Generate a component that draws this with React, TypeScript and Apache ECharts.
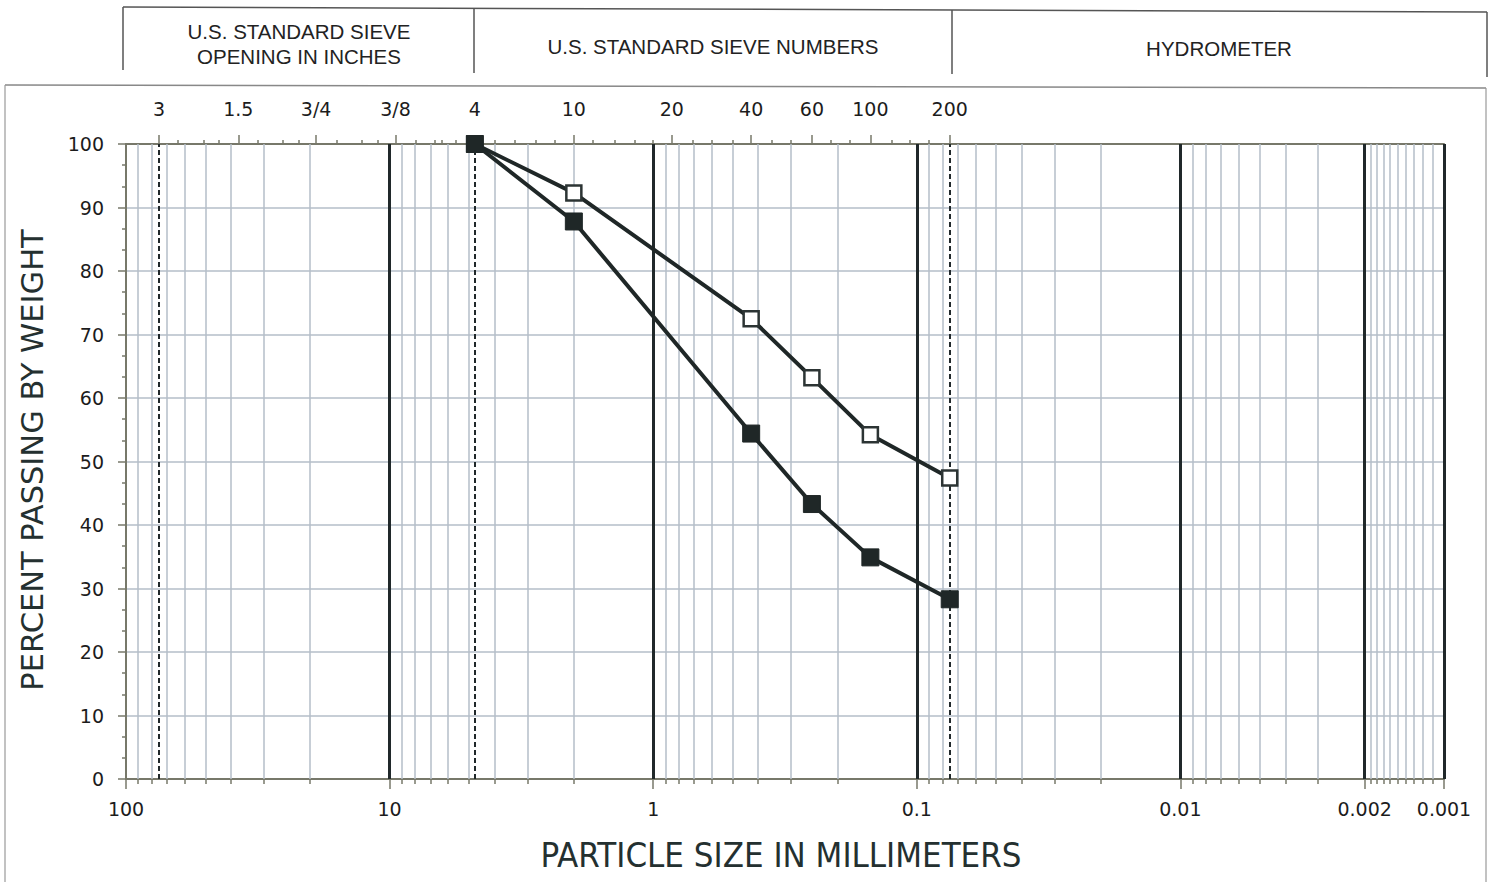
import React, { useEffect, useRef } from "react";
import * as echarts from "echarts";

// ---- data ----
const sampleSizes = [4.75, 2.0, 0.425, 0.25, 0.15, 0.075];
const sampleOpen = [100, 92.3, 72.5, 63.2, 54.2, 47.4];
const sampleFilled = [100, 87.8, 54.4, 43.3, 34.9, 28.3];

// ---- axes ----
const sieveSizes = [75, 37.5, 19, 9.5, 4.75, 2.0, 0.85, 0.425, 0.25, 0.15, 0.075];
const sieveLabels = ["3", "1.5", "3/4", "3/8", "4", "10", "20", "40", "60", "100", "200"];
const minorSieveSizes = [
  63.5, 50.8, 44.5, 31.75, 25.4, 22.2, 15.9, 12.7, 11.1, 7.94, 6.73, 6.35, 5.6,
  4.0, 3.35, 2.8, 2.36, 1.7, 1.4, 1.18, 1.0, 0.71, 0.6, 0.5, 0.355, 0.3, 0.212,
  0.18, 0.125, 0.106, 0.09,
];
const sizeTicks = [100, 10, 1, 0.1, 0.01, 0.002, 0.001];
const sizeTickLabels = ["100", "10", "1", "0.1", "0.01", "0.002", "0.001"];
const decades = [10, 1, 0.1, 0.01, 0.001];
const multiples = [2, 3, 4, 5, 6, 7, 8, 9];
const boldLines = [10, 1, 0.1, 0.01, 0.002, 0.001];
const dashedLines = [75, 4.75, 0.075];
const fineLines = [0.0011, 0.0012, 0.0013, 0.0014, 0.0015, 0.0016, 0.0017, 0.0018, 0.0019];

const nearest = (v: number, vals: number[], labels: string[]) => {
  let best = 0;
  let bd = Infinity;
  vals.forEach((x, i) => {
    const d = Math.abs(Math.log10(v) - Math.log10(x));
    if (d < bd) {
      bd = d;
      best = i;
    }
  });
  return labels[best];
};

const minorGrid: number[] = [];
decades.forEach((d) => multiples.forEach((m) => {
  const v = +(d * m).toPrecision(3);
  if (!boldLines.some((b) => Math.abs(b - v) / b < 1e-6)) minorGrid.push(v);
}));
const minorTickVals = minorGrid.concat(fineLines);

const INK = "#1f2727";
const GRID = "#b4bec8";
const AXIS = "#77786a";
const TICKFONT = "DejaVu Sans";

export default function App() {
  const ref = useRef<HTMLDivElement>(null);
  useEffect(() => {
    if (!ref.current) return;
    const chart = echarts.init(ref.current, null, { renderer: "svg" });
    const logAxisBase = {
      type: "log" as const,
      logBase: 10,
      min: 0.001,
      max: 100,
      inverse: true,
      gridIndex: 0,
      splitLine: { show: false },
      minorTick: { show: false },
      minorSplitLine: { show: false },
    };
    const vline = (vals: number[], style: any) =>
      vals.map((v) => ({ xAxis: v, lineStyle: style }));
    const headerFont = "20.5px 'Liberation Sans', Arial, sans-serif";

    chart.setOption({
      animation: false,
      backgroundColor: "#ffffff",
      grid: { left: 126, right: 49, top: 144, bottom: 103, containLabel: false },
      xAxis: [
        {
          ...logAxisBase,
          position: "bottom",
          axisLine: { show: true, lineStyle: { color: AXIS, width: 2 } },
          axisTick: {
            show: true,
            customValues: sizeTicks,
            length: 10,
            lineStyle: { color: AXIS, width: 1.5 },
          },
          axisLabel: {
            show: true,
            customValues: sizeTicks,
            margin: 20,
            color: "#1c1c1c",
            fontFamily: TICKFONT,
            fontSize: 19,
            formatter: (v: number) => nearest(v, sizeTicks, sizeTickLabels),
          },
        },
        {
          ...logAxisBase,
          position: "bottom",
          axisLine: { show: false },
          axisTick: {
            show: true,
            customValues: minorTickVals,
            length: 5,
            lineStyle: { color: AXIS, width: 1.5 },
          },
          axisLabel: { show: false },
        },
        {
          ...logAxisBase,
          position: "top",
          axisLine: { show: true, lineStyle: { color: AXIS, width: 2 } },
          axisTick: {
            show: true,
            customValues: sieveSizes,
            length: 9,
            lineStyle: { color: AXIS, width: 1.5 },
          },
          axisLabel: {
            show: true,
            customValues: sieveSizes,
            margin: 26,
            color: "#1c1c1c",
            fontFamily: TICKFONT,
            fontSize: 19,
            formatter: (v: number) => nearest(v, sieveSizes, sieveLabels),
          },
        },
        {
          ...logAxisBase,
          position: "top",
          axisLine: { show: false },
          axisTick: {
            show: true,
            customValues: minorSieveSizes,
            length: 4,
            lineStyle: { color: AXIS, width: 1.5 },
          },
          axisLabel: { show: false },
        },
      ],
      yAxis: {
        type: "value",
        min: 0,
        max: 100,
        interval: 10,
        axisLine: { show: true, lineStyle: { color: AXIS, width: 2 } },
        axisTick: { show: true, length: 8, lineStyle: { color: AXIS, width: 1.5 } },
        minorTick: { show: true, splitNumber: 3, length: 4, lineStyle: { color: AXIS, width: 1.5 } },
        axisLabel: { color: "#1c1c1c", fontFamily: TICKFONT, fontSize: 19, margin: 22 },
        splitLine: { show: true, lineStyle: { color: GRID, width: 1.5 } },
      },
      graphic: [
        // header box
        { type: "line", shape: { x1: 123, y1: 7, x2: 1487, y2: 12 }, style: { stroke: "#555", lineWidth: 1.5 } },
        { type: "line", shape: { x1: 123, y1: 7, x2: 123, y2: 70 }, style: { stroke: "#555", lineWidth: 1.5 } },
        { type: "line", shape: { x1: 474, y1: 8, x2: 474, y2: 73 }, style: { stroke: "#555", lineWidth: 1.5 } },
        { type: "line", shape: { x1: 952, y1: 10, x2: 952, y2: 74 }, style: { stroke: "#555", lineWidth: 1.5 } },
        { type: "line", shape: { x1: 1487, y1: 12, x2: 1487, y2: 77 }, style: { stroke: "#555", lineWidth: 1.5 } },
        // chart frame
        { type: "line", shape: { x1: 5, y1: 85, x2: 1486, y2: 88 }, style: { stroke: "#888", lineWidth: 1.5 } },
        { type: "line", shape: { x1: 5, y1: 85, x2: 5, y2: 882 }, style: { stroke: "#999", lineWidth: 1.2 } },
        { type: "line", shape: { x1: 1486, y1: 88, x2: 1486, y2: 882 }, style: { stroke: "#999", lineWidth: 1.2 } },
        // header texts
        {
          type: "text", x: 299, y: 31,
          style: { text: "U.S. STANDARD SIEVE", font: headerFont, fill: "#222", align: "center", verticalAlign: "middle" },
        },
        {
          type: "text", x: 299, y: 56,
          style: { text: "OPENING IN INCHES", font: headerFont, fill: "#222", align: "center", verticalAlign: "middle" },
        },
        {
          type: "text", x: 713, y: 46,
          style: { text: "U.S. STANDARD SIEVE NUMBERS", font: headerFont, fill: "#222", align: "center", verticalAlign: "middle" },
        },
        {
          type: "text", x: 1219, y: 48,
          style: { text: "HYDROMETER", font: headerFont, fill: "#222", align: "center", verticalAlign: "middle" },
        },
        // axis titles
        {
          type: "text", x: 781, y: 855,
          style: { text: "PARTICLE SIZE IN MILLIMETERS", font: "34.5px 'DejaVu Sans Condensed', 'DejaVu Sans', sans-serif", fill: "#243030", align: "center", verticalAlign: "middle" },
        },
        {
          type: "text", x: 32, y: 460, rotation: Math.PI / 2,
          style: { text: "PERCENT PASSING BY WEIGHT", font: "30.5px 'DejaVu Sans', sans-serif", fill: "#243030", align: "center", verticalAlign: "middle" },
        },
      ],
      series: [
        {
          name: "minor-grid",
          type: "line",
          xAxisIndex: 0,
          data: [],
          z: 1,
          silent: true,
          markLine: {
            silent: true,
            precision: 8,
            symbol: ["none", "none"],
            label: { show: false },
            data: vline(minorTickVals, { color: GRID, width: 1.5, type: "solid" }),
          },
        },
        {
          name: "bold-lines",
          type: "line",
          xAxisIndex: 0,
          data: [],
          z: 2,
          silent: true,
          markLine: {
            silent: true,
            precision: 8,
            symbol: ["none", "none"],
            label: { show: false },
            data: vline(boldLines, { color: "#20282a", width: 3, type: "solid" }),
          },
        },
        {
          name: "dashed-lines",
          type: "line",
          xAxisIndex: 0,
          data: [],
          z: 2,
          silent: true,
          markLine: {
            silent: true,
            precision: 8,
            symbol: ["none", "none"],
            label: { show: false },
            data: vline(dashedLines, { color: "#20282a", width: 2, type: [5, 3] }),
          },
        },
        {
          name: "Sample A",
          type: "line",
          xAxisIndex: 0,
          z: 5,
          data: sampleSizes.map((s, i) => [s, sampleOpen[i]]),
          symbol: "rect",
          symbolSize: 15,
          lineStyle: { color: INK, width: 4 },
          itemStyle: { color: "#ffffff", borderColor: "#2c3434", borderWidth: 2.5 },
        },
        {
          name: "Sample B",
          type: "line",
          xAxisIndex: 0,
          z: 6,
          data: sampleSizes.map((s, i) => [s, sampleFilled[i]]),
          symbol: "rect",
          symbolSize: 17,
          lineStyle: { color: INK, width: 4 },
          itemStyle: { color: INK, borderColor: INK, borderWidth: 1 },
        },
      ],
    });
    return () => chart.dispose();
  }, []);
  return (
    <div
      ref={ref}
      style={{ position: "fixed", left: 0, top: 0, width: 1493, height: 882, background: "#fff" }}
    />
  );
}
